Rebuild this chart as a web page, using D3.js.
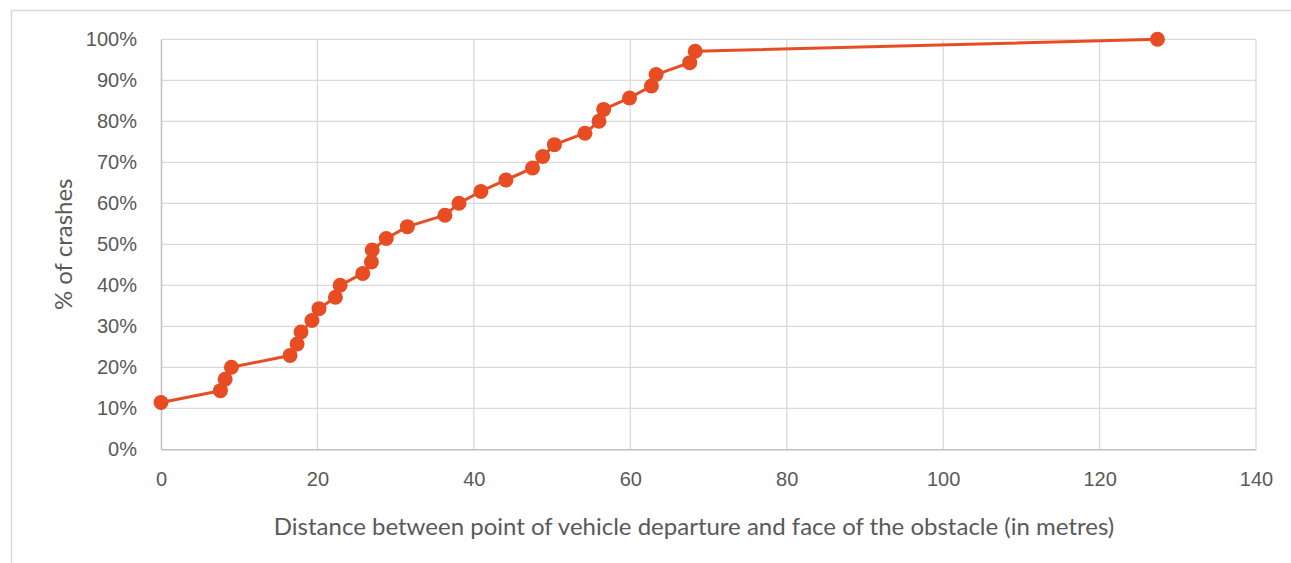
<!DOCTYPE html>
<html>
<head>
<meta charset="utf-8">
<script src="https://cdn.jsdelivr.net/npm/d3@7"></script>
<style>
  html, body { margin: 0; padding: 0; background: #fff; }
  svg { display: block; font-family: Lato, "Open Sans", sans-serif; }
</style>
</head>
<body>
<div id="chart"></div>
<script>
// distance (m) from departure point to obstacle face
const distances = [0, 7.6, 8.2, 9.0, 16.5, 17.4, 17.9, 19.3, 20.2, 22.3, 22.9, 25.8, 26.9, 27.0,
  28.8, 31.5, 36.3, 38.1, 40.9, 44.1, 47.5, 48.8, 50.3, 54.2, 56.0, 56.6, 59.9, 62.7, 63.3,
  67.6, 68.3, 127.4];
// cumulative share of crashes
const shares = [0.114, 0.143, 0.171, 0.200, 0.229, 0.257, 0.286, 0.314, 0.343, 0.371, 0.400,
  0.429, 0.457, 0.486, 0.514, 0.543, 0.571, 0.600, 0.629, 0.657, 0.686, 0.714, 0.743, 0.771,
  0.800, 0.829, 0.857, 0.886, 0.914, 0.943, 0.971, 1.000];
const xTicks = [0, 20, 40, 60, 80, 100, 120, 140];
const yTicks = [0, 0.1, 0.2, 0.3, 0.4, 0.5, 0.6, 0.7, 0.8, 0.9, 1.0];

const W = 1291, H = 563;
const plot = { left: 161, right: 1256, top: 39.3, bottom: 449.3 };
const lineColor = "#e84c22";

const svg = d3.select("#chart").append("svg")
  .attr("width", W).attr("height", H);

// chart frame (runs off the right and bottom of the picture)
svg.append("path")
  .attr("d", `M11.5,${H} V10.5 H${W}`)
  .attr("fill", "none").attr("stroke", "#d9d9d9").attr("stroke-width", 1.5);

const x = d3.scaleLinear().domain([0, 140]).range([plot.left, plot.right]);
const y = d3.scaleLinear().domain([0, 1]).range([plot.bottom, plot.top]);

// gridlines
const grid = svg.append("g");
grid.selectAll("line.h").data(yTicks.slice(1)).enter().append("line")
  .attr("x1", plot.left).attr("x2", plot.right)
  .attr("y1", d => y(d)).attr("y2", d => y(d))
  .attr("stroke", "#d9d9d9").attr("stroke-width", 1.3);
grid.selectAll("line.v").data(xTicks.slice(1)).enter().append("line")
  .attr("x1", d => x(d)).attr("x2", d => x(d))
  .attr("y1", plot.top).attr("y2", plot.bottom)
  .attr("stroke", "#d9d9d9").attr("stroke-width", 1.3);

// axes
const yAxis = svg.append("g")
  .attr("transform", `translate(${plot.left},0)`)
  .call(d3.axisLeft(y).tickValues(yTicks).tickFormat(d3.format(".0%")).tickSize(0).tickPadding(24));
const xAxis = svg.append("g")
  .attr("transform", `translate(0,${plot.bottom})`)
  .call(d3.axisBottom(x).tickValues(xTicks).tickSize(0).tickPadding(23));

[yAxis, xAxis].forEach(ax => {
  ax.select(".domain").attr("stroke", "#bfbfbf").attr("stroke-width", 1.5);
  ax.selectAll("text").attr("fill", "#595959").style("font-size", "20px");
});

// axis titles
svg.append("text")
  .attr("x", 694).attr("y", 535)
  .attr("text-anchor", "middle").attr("fill", "#595959").style("font-size", "24px")
  .text("Distance between point of vehicle departure and face of the obstacle (in metres)");
svg.append("text")
  .attr("transform", `translate(72,${(plot.top + plot.bottom) / 2}) rotate(-90)`)
  .attr("text-anchor", "middle").attr("fill", "#595959").style("font-size", "24px")
  .text("% of crashes");

// series
const pts = distances.map((d, i) => [d, shares[i]]);
const lineMaker = d3.line().x(d => x(d[0])).y(d => y(d[1]));
svg.append("path")
  .attr("d", lineMaker(pts))
  .attr("fill", "none").attr("stroke", lineColor).attr("stroke-width", 3)
  .attr("stroke-linejoin", "round");
svg.append("g").selectAll("circle").data(pts).enter().append("circle")
  .attr("cx", d => x(d[0])).attr("cy", d => y(d[1]))
  .attr("r", 7.5).attr("fill", lineColor);
</script>
</body>
</html>
